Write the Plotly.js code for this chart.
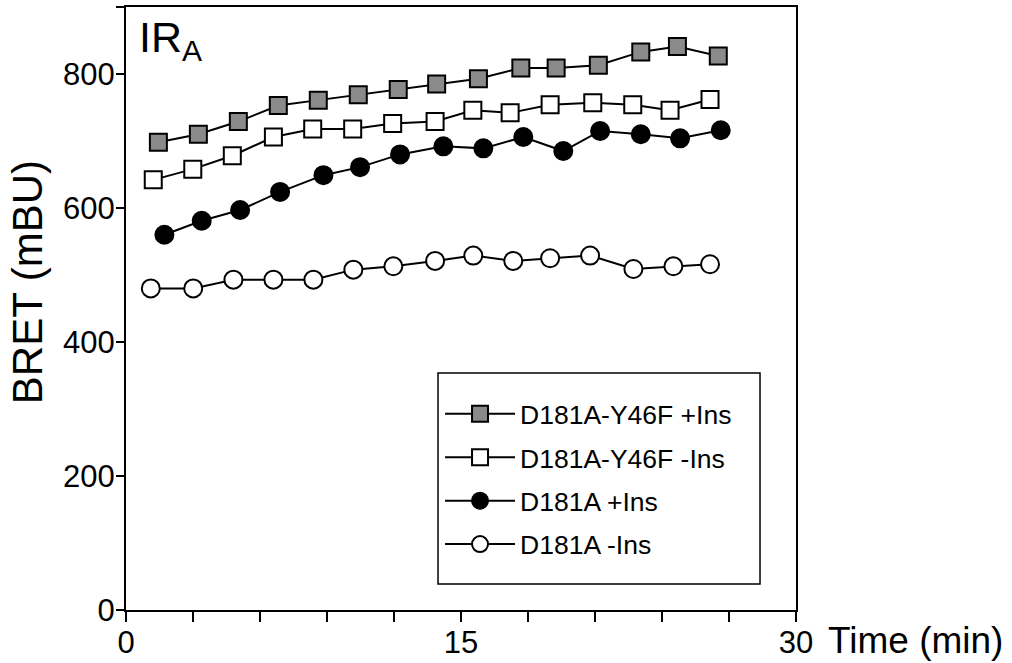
<!DOCTYPE html>
<html>
<head>
<meta charset="utf-8">
<script src="https://cdn.plot.ly/plotly-3.0.1.min.js"></script>
<style>html,body{margin:0;padding:0;background:#fff;}#chart{width:1012px;height:663px;}</style>
</head>
<body>
<div id="chart"></div>
<script>
// Series names
const seriesNames = ["D181A-Y46F +Ins", "D181A-Y46F -Ins", "D181A +Ins", "D181A -Ins"];

// Time (min) and BRET (mBU) values
const xY46FIns = [1.45, 3.24, 5.03, 6.82, 8.61, 10.40, 12.19, 13.91, 15.78, 17.68, 19.26, 21.15, 23.05, 24.69, 26.52];
const yY46FIns = [698, 710, 729, 753, 761, 769, 777, 785, 793, 809, 809, 813, 833, 841, 827];

const xY46FNoIns = [1.22, 2.99, 4.76, 6.60, 8.36, 10.15, 11.94, 13.84, 15.53, 17.20, 18.99, 20.90, 22.69, 24.36, 26.15];
const yY46FNoIns = [642, 658, 678, 706, 718, 718, 726, 729, 746, 742, 754, 757, 754, 746, 762];

const xD181AIns = [1.72, 3.39, 5.11, 6.90, 8.84, 10.48, 12.27, 14.21, 16.00, 17.79, 19.58, 21.23, 23.05, 24.81, 26.63];
const yD181AIns = [560, 581, 597, 624, 649, 661, 680, 692, 689, 706, 685, 715, 710, 704, 716];

const xD181ANoIns = [1.11, 3.01, 4.81, 6.60, 8.39, 10.18, 11.97, 13.84, 15.55, 17.34, 18.99, 20.78, 22.72, 24.51, 26.15];
const yD181ANoIns = [480, 480, 493, 493, 493, 508, 513, 521, 529, 521, 525, 529, 509, 513, 516];

// Axis ticks
const xTickVals = [0, 3, 6, 9, 12, 15, 18, 21, 24, 27, 30];
const xTickText = ["0", "", "", "", "", "15", "", "", "", "", "30"];
const yTickVals = [0, 200, 400, 600, 800, 900];
const yTickText = ["0", "200", "400", "600", "800", ""];

const FONT = "Liberation Sans, Arial, Helvetica, sans-serif";

function mk(x, y, name, symbol, fill, group) {
  return {
    x: x, y: y, name: name, type: "scatter", mode: "lines+markers",
    legendgroup: group,
    line: {color: "#000", width: 2},
    marker: {symbol: symbol, size: symbol === "square" ? 17 : 18, color: fill,
             line: {color: "#000", width: 2}},
    cliponaxis: false
  };
}

const data = [
  mk(xY46FIns, yY46FIns, seriesNames[0], "square", "#8a8a8a", "a"),
  mk(xY46FNoIns, yY46FNoIns, seriesNames[1], "square", "#ffffff", "b"),
  mk(xD181AIns, yD181AIns, seriesNames[2], "circle", "#000000", "c"),
  mk(xD181ANoIns, yD181ANoIns, seriesNames[3], "circle", "#ffffff", "d")
];

const layout = {
  width: 1012, height: 663,
  margin: {l: 126, r: 216, t: 7, b: 53, pad: 0},
  paper_bgcolor: "#fff", plot_bgcolor: "#fff",
  font: {family: FONT, color: "#000", size: 31},
  showlegend: true,
  legend: {
    x: 0.4687, y: 0.3648, xanchor: "left", yanchor: "top",
    borderwidth: 0, bgcolor: "rgba(0,0,0,0)",
    font: {family: FONT, size: 26.5, color: "#000"},
    itemwidth: 70, tracegroupgap: 6, traceorder: "grouped",
    itemclick: false
  },
  xaxis: {
    range: [0, 30], showgrid: false, zeroline: false,
    showline: true, linecolor: "#000", linewidth: 2, mirror: true,
    ticks: "outside", ticklen: 10, tickwidth: 1.5, tickcolor: "#000",
    tickmode: "array", tickvals: xTickVals, ticktext: xTickText,
    ticklabelstandoff: -6,
    tickfont: {family: FONT, size: 31, color: "#000"}
  },
  yaxis: {
    range: [0, 900], showgrid: false, zeroline: false,
    showline: true, linecolor: "#000", linewidth: 2, mirror: true,
    ticks: "outside", ticklen: 8, tickwidth: 1.5, tickcolor: "#000",
    tickmode: "array", tickvals: yTickVals, ticktext: yTickText,
    ticklabelstandoff: -5,
    tickfont: {family: FONT, size: 31, color: "#000"}
  },
  shapes: [
    {type: "rect", xref: "paper", yref: "paper",
     x0: 0.4657, x1: 0.9463, y0: 0.0431, y1: 0.3930,
     line: {color: "#000", width: 1.5}, fillcolor: "rgba(0,0,0,0)", layer: "above"}
  ],
  annotations: [
    {text: "Time (min)", xref: "paper", yref: "paper", x: 1.0448, y: -0.0498,
     xanchor: "left", yanchor: "middle", showarrow: false,
     font: {family: FONT, size: 37, color: "#000"}},
    {text: "BRET (mBU)", xref: "paper", yref: "paper", x: -0.146, y: 0.544,
     xanchor: "center", yanchor: "middle", textangle: -90, showarrow: false,
     font: {family: FONT, size: 42, color: "#000"}},
    {text: "IR<sub>A</sub>", xref: "paper", yref: "paper", x: 0.016, y: 0.993,
     xanchor: "left", yanchor: "top", showarrow: false,
     font: {family: FONT, size: 43, color: "#000"}}
  ]
};

Plotly.newPlot("chart", data, layout, {displayModeBar: false, staticPlot: true});
</script>
</body>
</html>
